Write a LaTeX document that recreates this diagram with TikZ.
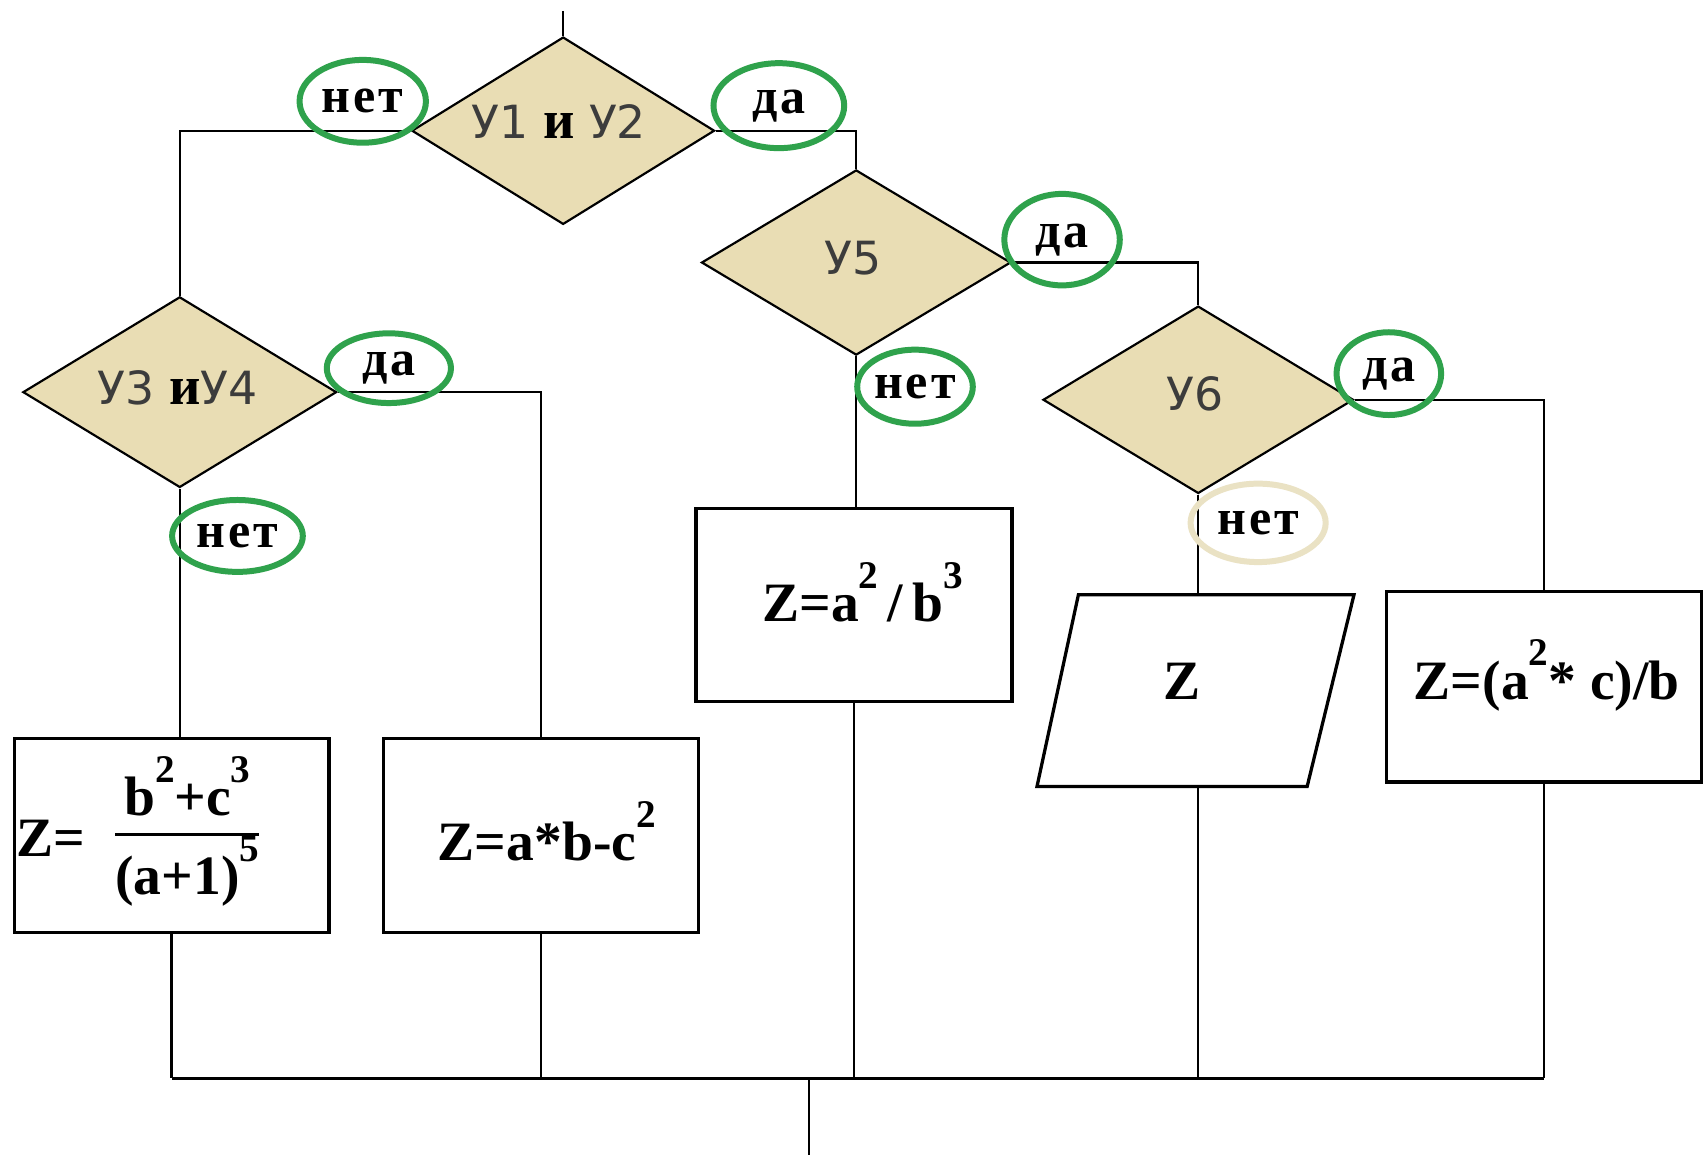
\documentclass[tikz,border=0pt]{standalone}
\usepackage{fontspec}
\setmainfont{Liberation Serif}
\newfontfamily\ufont{DejaVu Sans}
\newfontfamily\lblfont[LetterSpace=6]{Liberation Serif}
\usetikzlibrary{shapes.geometric}
\definecolor{dfill}{HTML}{E9DDB4}
\definecolor{grn}{HTML}{2FA24C}
\definecolor{beig}{HTML}{EAE2C4}
\definecolor{ugrey}{HTML}{3C3C3C}
\newcommand{\bi}{{\rmfamily\bfseries\fontsize{50}{50}\selectfont\color{black}и}}
\newcommand{\sps}[1]{\raisebox{0.6em}{\fontsize{36}{36}\selectfont\bfseries #1}}
\begin{document}
\begin{tikzpicture}[x=1pt,y=-1pt,
  conn/.style={line width=2pt},
  busline/.style={line width=3.5pt},
  dia/.style={diamond, draw=black, fill=dfill, line width=2pt, inner sep=0pt},
  box/.style={rectangle, draw=black, line width=3pt, inner sep=0pt},
  lbl/.style={ellipse, draw=grn, line width=5.5pt, inner sep=0pt, font=\fontsize{46}{50}\selectfont\lblfont\bfseries},
  utxt/.style={font=\fontsize{42}{46}\selectfont\ufont, text=ugrey, inner sep=0pt},
  ftxt/.style={font=\fontsize{51}{54}\selectfont\bfseries, inner sep=0pt},
]
\fill[white] (0,0) rectangle (1568,1065);
\useasboundingbox (0,0) rectangle (1568,1065);

% decisions
\node[dia, minimum width=278pt, minimum height=172pt] (d1) at (517,120) {};
\node[dia, minimum width=288pt, minimum height=175pt] (d2) at (165,360) {};
\node[dia, minimum width=284pt, minimum height=170pt] (d3) at (786,241) {};
\node[dia, minimum width=285pt, minimum height=172pt] (d4) at (1100,367) {};

\node[utxt] (t1) at (513,112) {У1 \bi{} У2};
\node[utxt] (t2) at (163,356) {У3 \bi У4};
\node[utxt] (t3) at (783,237) {У5};
\node[utxt] (t4) at (1097,362) {У6};

% process boxes
\node[box, minimum width=289pt, minimum height=178pt] (b1) at (157.5,767) {};
\node[box, minimum width=289pt, minimum height=178pt] (b2) at (496.5,767) {};
\node[box, minimum width=290pt, minimum height=177pt] (b3) at (784,555.5) {};
\node[box, minimum width=289pt, minimum height=175pt] (b5) at (1417.5,630.5) {};

% output parallelogram
\draw[line width=3pt] (990,546) -- (1243,546) -- (1200,722) -- (952,722) -- cycle;
\coordinate (ptop) at (1097,546);
\coordinate (pbot) at (1100,722);

% formulas
\node[ftxt] (f1a) at (47,770) {Z=};
\node[ftxt] (f1b) at (172,766) {\setlength\arrayrulewidth{2.5pt}\renewcommand\arraystretch{1.0}%
  \begin{tabular}{@{}c@{}}b\sps{2}+c\sps{3}\\\hline(a+1)\sps{5}\end{tabular}};
\node[ftxt] (f2) at (502,763) {Z=a*b-c\sps{2}};
\node[ftxt] (f3) at (792,544) {Z=a\sps{2}\,/\,b\sps{3}};
\node[ftxt] (fz) at (1085,625) {Z};
\node[ftxt] (f5) at (1420,620) {Z=(a\sps{2}* c)/b};

% connectors
\coordinate (entry) at (517,10);
\coordinate (bus) at (743,990);
\coordinate (exit) at (743,1060);
\draw[conn] (entry) -- (d1.north);
\draw[conn] (d1.west) -| (d2.north);
\draw[conn] (d1.east) -| (d3.north);
\draw[conn] (d2.east) -| (b2.north);
\draw[conn] (d2.south) -- (d2.south |- b1.north);
\draw[conn] (d3.east) -| (d4.north);
\draw[conn] (d3.south) -- (d3.south |- b3.north);
\draw[conn] (d4.east) -| (b5.north);
\draw[conn] (d4.south) -- (d4.south |- ptop);

\draw[conn] (b1.south) -- (b1.south |- bus);
\draw[conn] (b2.south) -- (b2.south |- bus);
\draw[conn] (b3.south) -- (b3.south |- bus);
\draw[conn] (pbot) -- (pbot |- bus);
\draw[conn] (b5.south) -- (b5.south |- bus);
\draw[busline] (b1.south |- bus) -- (b5.south |- bus);
\draw[conn] (bus) -- (exit);

% yes/no labels
\node[lbl, minimum width=116pt, minimum height=76pt] (n1) at (333,93) {нет};
\node[lbl, minimum width=120pt, minimum height=78pt] (y1) at (715,97) {да};
\node[lbl, minimum width=114pt, minimum height=64pt] (y2) at (357,338) {да};
\node[lbl, minimum width=120pt, minimum height=66pt] (n2) at (218,492) {нет};
\node[lbl, minimum width=106pt, minimum height=84pt] (y3) at (975,220) {да};
\node[lbl, minimum width=100pt, minimum height=68pt] (n3) at (840,355) {нет};
\node[lbl, minimum width=96pt, minimum height=76pt] (y4) at (1275,343) {да};
\node[lbl, draw=beig, minimum width=124pt, minimum height=72pt] (n4) at (1155,480) {нет};
\end{tikzpicture}
\end{document}
